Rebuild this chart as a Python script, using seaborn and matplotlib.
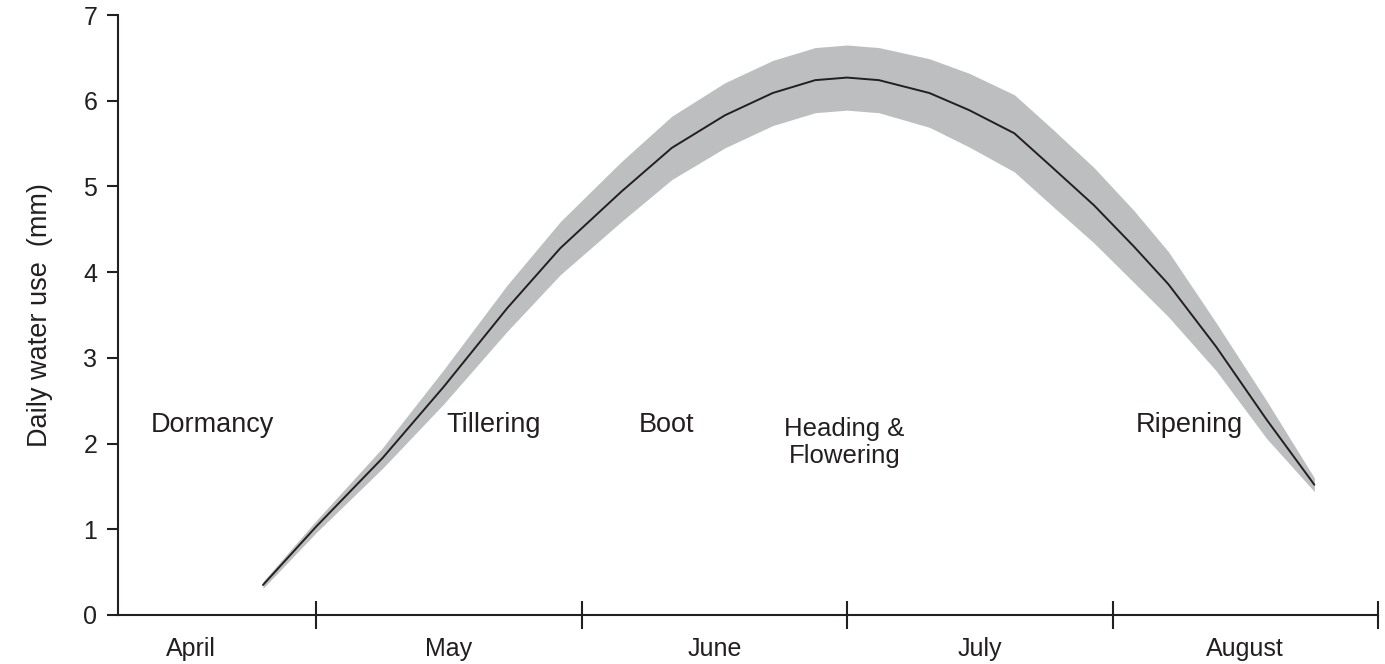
import numpy as np
import pandas as pd
import seaborn as sns
import matplotlib.pyplot as plt

# season position in month units (1 = start of May)
month_pos = [0.80, 1.00, 1.25, 1.48, 1.72, 1.92, 2.15, 2.34, 2.54, 2.72, 2.88, 3.00,
             3.12, 3.31, 3.46, 3.63, 3.77, 3.93, 4.08, 4.21, 4.39, 4.58, 4.76]
water_use = [0.35, 1.03, 1.83, 2.66, 3.58, 4.28, 4.94, 5.45, 5.83, 6.09, 6.24, 6.27,
             6.24, 6.09, 5.89, 5.62, 5.23, 4.78, 4.30, 3.86, 3.13, 2.28, 1.52]
band_low = [0.31, 0.96, 1.71, 2.46, 3.31, 3.97, 4.59, 5.08, 5.45, 5.71, 5.86, 5.89,
            5.86, 5.69, 5.46, 5.17, 4.78, 4.34, 3.88, 3.48, 2.85, 2.06, 1.44]
band_high = [0.39, 1.10, 1.95, 2.86, 3.85, 4.59, 5.29, 5.82, 6.21, 6.47, 6.62, 6.65,
             6.62, 6.49, 6.32, 6.07, 5.68, 5.22, 4.72, 4.24, 3.41, 2.50, 1.60]

months = ['April', 'May', 'June', 'July', 'August']
month_label_pos = [0.53, 1.5, 2.5, 3.5, 4.5]
month_bounds = [1, 2, 3, 4, 5]

stages = ['Dormancy', 'Tillering', 'Boot', 'Heading &\nFlowering', 'Ripening']
stage_x = [0.61, 1.67, 2.32, 2.99, 4.29]
stage_y = [2.22, 2.22, 2.22, 2.01, 2.22]

sns.set_style('ticks')
plt.rcParams['font.family'] = ['Liberation Sans', 'DejaVu Sans']
ink = '#231f20'

df = pd.DataFrame({'month': month_pos, 'use': water_use,
                   'lo': band_low, 'hi': band_high})

fig = plt.figure(figsize=(13.85, 6.64), dpi=100)
ax = fig.add_axes([0.0852, 0.0738, 0.9098, 0.9036])

ax.fill_between(df['month'], df['lo'], df['hi'], color='#bcbec0', lw=0)
sns.lineplot(data=df, x='month', y='use', ax=ax, color=ink, lw=1.4)

for s, sx, sy in zip(stages, stage_x, stage_y):
    fs = 18.5 if '\n' in s else 19.5
    ax.text(sx, sy, s, ha='center', va='center', fontsize=fs, color=ink,
            linespacing=1.15)

ax.set_xlim(0.254, 5.0)
ax.set_ylim(0, 7)
ax.set_yticks(range(8))
ax.tick_params(axis='y', direction='out', length=8, width=1.5, colors=ink,
               labelsize=18, pad=7)
ax.set_xticks(month_bounds)
ax.set_xticklabels([])
ax.tick_params(axis='x', which='major', direction='inout', length=20,
               width=1.5, colors=ink)
ax.set_xticks(month_label_pos, minor=True)
ax.set_xticklabels(months, minor=True)
ax.tick_params(axis='x', which='minor', length=0, labelsize=18, pad=16,
               labelcolor=ink)

ax.set_xlabel('')
ax.set_ylabel('Daily water use  (mm)', fontsize=19.5, color=ink, labelpad=22)
for side in ['left', 'bottom']:
    ax.spines[side].set_linewidth(1.5)
    ax.spines[side].set_color(ink)
sns.despine(ax=ax)

fig.savefig('out.png', dpi=100)
